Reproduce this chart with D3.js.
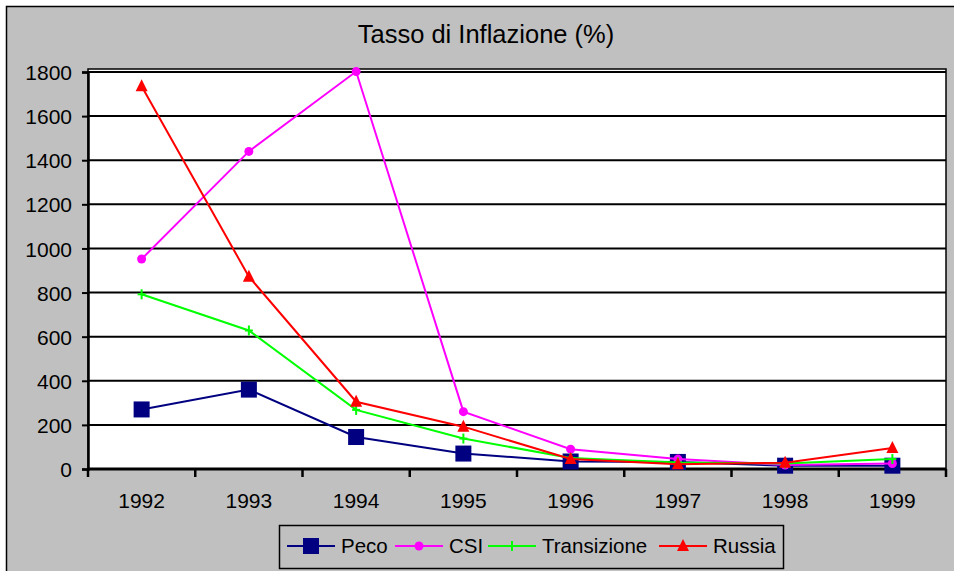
<!DOCTYPE html>
<html>
<head>
<meta charset="utf-8">
<script src="https://cdn.jsdelivr.net/npm/d3@7"></script>
<style>
  body { margin: 0; background: #fff; }
  text { font-family: "Liberation Sans", Arial, sans-serif; fill: #000; }
</style>
</head>
<body>
<script>
// data
const years = ["1992", "1993", "1994", "1995", "1996", "1997", "1998", "1999"];
const peco = [270, 360, 145, 70, 34, 32, 15, 15];
const csi = [952, 1440, 1802, 260, 90, 45, 18, 25];
const transizione = [792, 628, 268, 138, 50, 30, 25, 45];
const russia = [1735, 872, 305, 192, 45, 22, 28, 95];
const yTicks = [0, 200, 400, 600, 800, 1000, 1200, 1400, 1600, 1800];

const series = [
  { name: "Peco", values: peco, color: "#000080", marker: "square" },
  { name: "CSI", values: csi, color: "#ff00ff", marker: "circle" },
  { name: "Transizione", values: transizione, color: "#00ff00", marker: "plus" },
  { name: "Russia", values: russia, color: "#ff0000", marker: "triangle" }
];

const W = 954, H = 571;
const plot = { left: 88, right: 946, top: 69, bottom: 469 };

const svg = d3.select("body").append("svg")
  .attr("width", W).attr("height", H);

// chart background + border
svg.append("rect")
  .attr("x", 6.5).attr("y", 6.5)
  .attr("width", 960).attr("height", 600)
  .attr("fill", "#c0c0c0").attr("stroke", "#000").attr("stroke-width", 1.5);

svg.append("text")
  .attr("x", 486).attr("y", 43)
  .attr("text-anchor", "middle")
  .style("font-size", "25.5px")
  .text("Tasso di Inflazione (%)");

// plot area
svg.append("rect")
  .attr("x", plot.left).attr("y", plot.top)
  .attr("width", plot.right - plot.left).attr("height", plot.bottom - plot.top)
  .attr("fill", "#fff").attr("stroke", "#000").attr("stroke-width", 1.5);

const x = d3.scaleBand().domain(years).range([plot.left, plot.right]);
const y = d3.scaleLinear().domain([0, 1800]).range([plot.bottom, 72]);

// gridlines
svg.append("g")
  .selectAll("line")
  .data(yTicks.filter(d => d > 0))
  .join("line")
  .attr("x1", plot.left).attr("x2", plot.right)
  .attr("y1", d => y(d)).attr("y2", d => y(d))
  .attr("stroke", "#000").attr("stroke-width", 2);

// y axis
const yAxis = d3.axisLeft(y).tickValues(yTicks).tickFormat(d3.format("d")).tickSize(6).tickPadding(10);
const gy = svg.append("g")
  .attr("transform", "translate(" + plot.left + ",0)")
  .call(yAxis);
gy.select(".domain").attr("stroke-width", 2.5);
gy.selectAll(".tick line").attr("stroke-width", 2);
gy.selectAll("text").style("font-size", "21px").attr("font-family", null).attr("dy", "0.36em");

// x axis, ticks on category boundaries
const gx = svg.append("g")
  .attr("transform", "translate(0," + plot.bottom + ")");
gx.append("line")
  .attr("x1", plot.left).attr("x2", plot.right)
  .attr("stroke", "#000").attr("stroke-width", 3);
gx.selectAll("line.tk")
  .data(years.concat(["end"]))
  .join("line")
  .attr("class", "tk")
  .attr("x1", (d, i) => plot.left + i * x.bandwidth())
  .attr("x2", (d, i) => plot.left + i * x.bandwidth())
  .attr("y1", 0).attr("y2", 8)
  .attr("stroke", "#000").attr("stroke-width", 2.5);
gx.selectAll("text")
  .data(years)
  .join("text")
  .attr("x", d => x(d) + x.bandwidth() / 2)
  .attr("y", 39)
  .attr("text-anchor", "middle")
  .style("font-size", "21px")
  .text(d => d);

function drawMarker(g, type, color) {
  if (type === "square") {
    g.append("rect").attr("x", -8).attr("y", -8).attr("width", 16).attr("height", 16).attr("fill", color);
  } else if (type === "circle") {
    g.append("circle").attr("r", 4.5).attr("fill", color);
  } else if (type === "plus") {
    g.append("line").attr("x1", 0).attr("x2", 0).attr("y1", -5).attr("y2", 5)
      .attr("stroke", color).attr("stroke-width", 2);
    g.append("line").attr("x1", -4).attr("x2", 4).attr("y1", 0).attr("y2", 0)
      .attr("stroke", color).attr("stroke-width", 2);
  } else if (type === "triangle") {
    g.append("path").attr("d", "M0,-7L6,5L-6,5Z").attr("fill", color);
  }
}

const line = d3.line()
  .x((d, i) => x(years[i]) + x.bandwidth() / 2)
  .y(d => y(d));

series.forEach(s => {
  const g = svg.append("g");
  g.append("path")
    .datum(s.values)
    .attr("d", line)
    .attr("fill", "none")
    .attr("stroke", s.color)
    .attr("stroke-width", 2);
  s.values.forEach((v, i) => {
    const m = g.append("g")
      .attr("transform", "translate(" + (x(years[i]) + x.bandwidth() / 2) + "," + y(v) + ")");
    drawMarker(m, s.marker, s.color);
  });
});

// legend
const legend = svg.append("g");
legend.append("rect")
  .attr("x", 279.5).attr("y", 525.5)
  .attr("width", 504).attr("height", 43)
  .attr("fill", "none").attr("stroke", "#000").attr("stroke-width", 1.5);
const legendX = [287, 395, 488, 659];
series.forEach((s, i) => {
  const g = legend.append("g").attr("transform", "translate(" + legendX[i] + ",546)");
  g.append("line").attr("x1", 0).attr("x2", 48)
    .attr("stroke", s.color).attr("stroke-width", 2);
  const m = g.append("g").attr("transform", "translate(24,0)");
  drawMarker(m, s.marker, s.color);
  g.append("text")
    .attr("x", 54).attr("y", 0).attr("dy", "0.35em")
    .style("font-size", "20.5px")
    .text(s.name);
});
</script>
</body>
</html>
